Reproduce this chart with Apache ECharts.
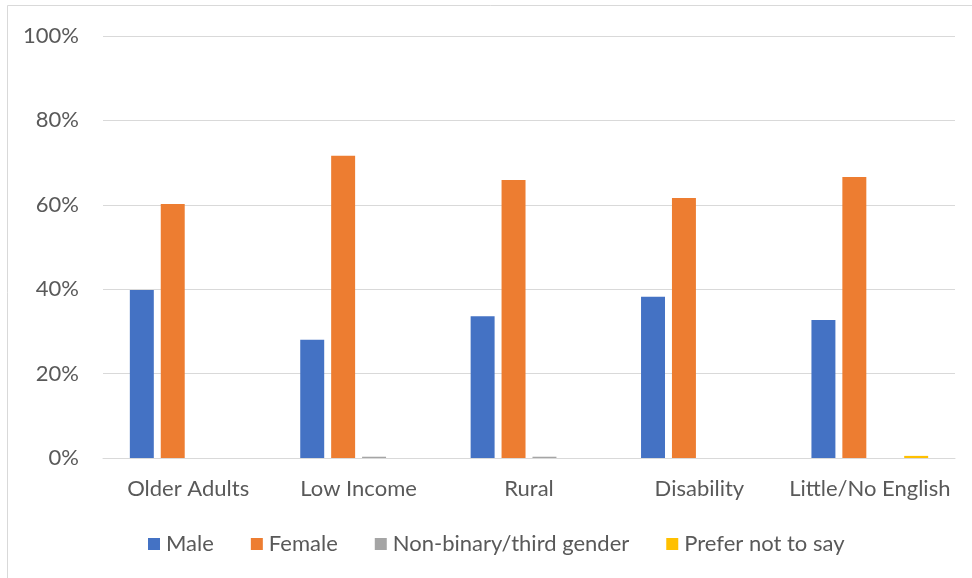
<!DOCTYPE html>
<html>
<head>
<meta charset="utf-8">
<script src="https://cdn.jsdelivr.net/npm/echarts@6/dist/echarts.min.js"></script>
<style>
  html, body { margin: 0; padding: 0; background: #fff; }
  #chart { width: 972px; height: 578px; }
</style>
</head>
<body>
<div id="chart"></div>
<script>
// Share of respondents by gender within each group (percent)
const categories = ['Older Adults', 'Low Income', 'Rural', 'Disability', 'Little/No English'];
const male       = [39.8, 28.0, 33.6, 38.2, 32.7];
const female     = [60.2, 71.6, 65.9, 61.6, 66.6];
const nonBinary  = [0.0, 0.3, 0.3, 0.0, 0.0];
const preferNot  = [0.0, 0.0, 0.0, 0.0, 0.5];
const yTicks     = [0, 20, 40, 60, 80, 100];

const seriesDefs = [
  { name: 'Male', data: male, color: '#4472C4' },
  { name: 'Female', data: female, color: '#ED7D31' },
  { name: 'Non-binary/third gender', data: nonBinary, color: '#A5A5A5' },
  { name: 'Prefer not to say', data: preferNot, color: '#FFC000' }
];

const textColor = '#595959';
const fontFamily = 'Lato, "Open Sans", "Liberation Sans", sans-serif';

const chart = echarts.init(document.getElementById('chart'), null, { renderer: 'canvas' });
chart.setOption({
  backgroundColor: '#ffffff',
  animation: false,
  textStyle: { fontFamily: fontFamily, color: textColor },
  graphic: [{
    type: 'rect',
    shape: { x: 7.5, y: 5.5, width: 1000, height: 1000 },
    style: { fill: 'none', stroke: '#d9d9d9', lineWidth: 1 },
    silent: true
  }],
  grid: { left: 103, right: 17, top: 36, bottom: 120 },
  legend: {
    data: seriesDefs.map(s => s.name),
    bottom: 18,
    left: 143,
    itemWidth: 12,
    itemHeight: 12,
    itemGap: 37,
    icon: 'rect',
    textStyle: { fontSize: 22, color: textColor, fontFamily: fontFamily, padding: [0, 0, 0, 1] }
  },
  xAxis: {
    type: 'category',
    data: categories,
    axisLine: { show: true, lineStyle: { color: '#d9d9d9', width: 1 } },
    axisTick: { show: false },
    axisLabel: { fontSize: 22, color: textColor, margin: 20, interval: 0 }
  },
  yAxis: {
    type: 'value',
    min: yTicks[0],
    max: yTicks[yTicks.length - 1],
    interval: yTicks[1] - yTicks[0],
    axisLine: { show: false },
    axisTick: { show: false },
    splitLine: { lineStyle: { color: '#d9d9d9', width: 1 } },
    axisLabel: { fontSize: 22, color: textColor, margin: 24, formatter: v => v + '%' }
  },
  series: seriesDefs.map(s => ({
    name: s.name,
    type: 'bar',
    data: s.data,
    itemStyle: { color: s.color },
    barGap: '29%',
    barCategoryGap: '31.5%'
  }))
});
</script>
</body>
</html>
